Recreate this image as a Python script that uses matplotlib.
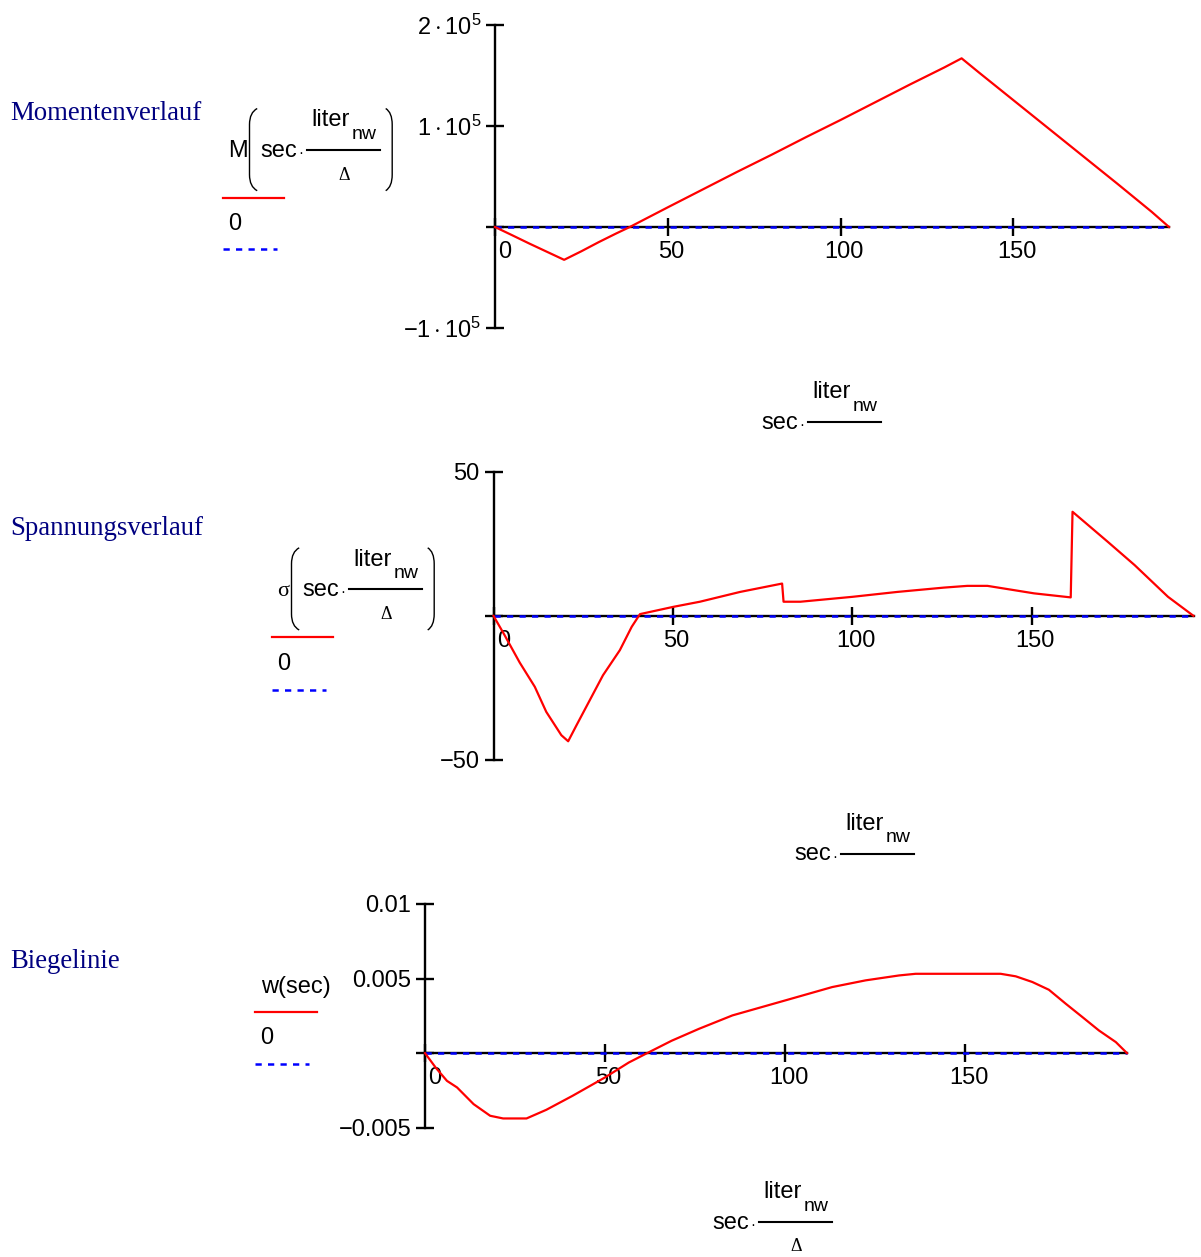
import matplotlib
matplotlib.use("Agg")
import matplotlib.pyplot as plt
from matplotlib.lines import Line2D
from matplotlib.path import Path
from matplotlib.patches import PathPatch
from matplotlib.transforms import Affine2D, ScaledTranslation

# --- data -----------------------------------------------------------------
x_ticks = [0, 50, 100, 150]
x_tick_labels = ["0", "50", "100", "150"]

# Momentenverlauf  M(sec*liter_nw/Delta)
m_x = [0, 5, 10, 15, 20, 25, 30, 35, 39, 50, 60, 70, 80, 90, 100, 110, 120,
       130, 135, 140, 150, 160, 170, 180, 190, 195]
m_y = [0, -8200, -16500, -24500, -32500, -24000, -15000, -6500, 0, 19500,
       37000, 54500, 71500, 89000, 106000, 123500, 141000, 158000, 167000,
       153000, 125500, 98000, 70500, 43000, 15000, 0]
m_yticks = [-1e5, 0, 1e5, 2e5]
m_ylabels = ["$-1\\cdot 10^{5}$", "", "$1\\cdot 10^{5}$", "$2\\cdot 10^{5}$"]

# Spannungsverlauf  sigma(sec*liter_nw/Delta)
s_x = [0, 3, 7.3, 11.5, 14.7, 18.9, 20.8, 23.1, 26.8, 30.5, 35.2, 38.5, 40.8,
       50, 57.5, 68.7, 80.4, 80.8, 85.5, 100, 112.5, 125.5, 132, 137.6, 150.6,
       160.8, 161.3, 164.6, 171.1, 178.6, 187.9, 195]
s_y = [0, -6.5, -16.2, -24.6, -33.3, -41.4, -43.5, -38, -29.3, -20.6, -11.9,
       -3.8, 0.6, 3.1, 4.9, 8.3, 11.2, 4.9, 4.9, 6.6, 8.3, 9.8, 10.4, 10.4,
       7.8, 6.4, 36.1, 32.6, 25.7, 17.6, 6.6, 0]
s_yticks = [-50, 0, 50]
s_ylabels = ["\u221250", "", "50"]

# Biegelinie  w(sec)
w_x = [0, 3, 6.1, 8.9, 13.5, 18.1, 21.7, 28.2, 33.7, 41, 50, 56.6, 61.7,
       68.5, 76.1, 85.4, 100, 113.1, 122.4, 131.7, 136.3, 159.9, 164.1,
       168.7, 173.3, 178, 182.6, 187.2, 191.9, 195]
w_y = [0, -0.00098, -0.00186, -0.0023, -0.00342, -0.0042, -0.00438,
       -0.00438, -0.0038, -0.00286, -0.00163, -0.00063, 0, 0.00083,
       0.00163, 0.00253, 0.00353, 0.00443, 0.00488, 0.00521, 0.00532,
       0.00532, 0.00515, 0.00477, 0.00425, 0.00331, 0.00242, 0.00152,
       0.00074, 0]
w_yticks = [-0.005, 0, 0.005, 0.01]
w_ylabels = ["\u22120.005", "", "0.005", "0.01"]

# --- figure ---------------------------------------------------------------
W, H = 1201, 1257
plt.rcParams["font.family"] = ["Liberation Sans", "DejaVu Sans"]
plt.rcParams["mathtext.fontset"] = "custom"
plt.rcParams["mathtext.rm"] = "Liberation Sans"
plt.rcParams["mathtext.it"] = "Liberation Sans:italic"

fig = plt.figure(figsize=(W / 100, H / 100), dpi=100)
# pixel coordinates measured from the top-left corner of the picture
T = Affine2D().scale(1 / W, -1 / H).translate(0, 1) + fig.transFigure

RED = "#ff0000"
BLUE = "#0000ff"
NAVY = "#000080"
DASH = (0, (2.5, 2.5))
AXW = 1.7


def rect(left, top, right, bottom):
    return [left / W, 1 - bottom / H, (right - left) / W, (bottom - top) / H]


def make_panel(box, xs, ys, ylim, yticks, ylabels):
    ax = fig.add_axes(rect(*box))
    ax.patch.set_visible(False)
    ax.plot([0, 195], [0, 0], color=BLUE, lw=1.8, ls=DASH, zorder=3,
            clip_on=False)
    ax.plot(xs, ys, color=RED, lw=1.6, zorder=4, clip_on=False)
    ax.set_xlim(0, 195)
    ax.set_ylim(*ylim)
    ax.spines["left"].set_position(("data", 0))
    ax.spines["bottom"].set_position(("data", 0))
    for s in ("top", "right"):
        ax.spines[s].set_visible(False)
    for s in ("left", "bottom"):
        ax.spines[s].set_linewidth(AXW)
    ax.set_xticks(x_ticks)
    ax.set_xticklabels(x_tick_labels)
    ax.set_yticks(yticks)
    ax.set_yticklabels(ylabels)
    ax.tick_params(direction="inout", length=13, width=AXW, labelsize=17,
                   pad=3.5)
    labels = ax.get_xticklabels()
    for lab in labels:
        lab.set_transform(lab.get_transform()
                          + ScaledTranslation(2.5 / 72, 0, fig.dpi_scale_trans))
    labels[0].set_ha("left")
    return ax


def paren(xv, xe, yt, yb):
    verts = [(xe, yt), (xv, yt + 4), (xv, yt + 16), (xv, yb - 16),
             (xv, yb - 4), (xe, yb)]
    codes = [Path.MOVETO, Path.CURVE3, Path.CURVE3, Path.LINETO,
             Path.CURVE3, Path.CURVE3]
    fig.add_artist(PathPatch(Path(verts, codes), transform=T, fill=False,
                             lw=1.0, edgecolor="black"))


def fraction(x0, ybar, denom):
    fig.text(x0, ybar + 7, "sec", transform=T, fontsize=17, va="baseline")
    fig.text(x0 + 38, ybar + 7, "\u00b7", transform=T, fontsize=11,
             va="baseline")
    fig.add_artist(Line2D([x0 + 46, x0 + 119], [ybar, ybar], transform=T,
                          color="black", lw=1.5))
    fig.text(x0 + 51, ybar - 23.5, "liter", transform=T, fontsize=17,
             va="baseline")
    fig.text(x0 + 91, ybar - 11, "nw", transform=T, fontsize=14,
             va="baseline")
    if denom:
        fig.text(x0 + 83.5, ybar + 25, "\u0394", transform=T, fontsize=13,
                 family="Liberation Serif", ha="center", va="center")


def arg_label(prefix, x0, ybar, serif=False):
    if serif:
        fig.text(x0 - 14, ybar + 7, prefix, transform=T, fontsize=16,
                 family="Liberation Serif", ha="right", va="baseline")
    else:
        fig.text(x0 - 13, ybar + 7, prefix, transform=T, fontsize=17,
                 ha="right", va="baseline")
    paren(x0 - 11.2, x0 - 3.5, ybar - 41.5, ybar + 40.7)
    fraction(x0, ybar, True)
    paren(x0 + 131.5, x0 + 125, ybar - 41.5, ybar + 40.7)


def trace_key(x0, y_red, y_zero, y_blue, red_len, blue_len):
    fig.add_artist(Line2D([x0, x0 + red_len], [y_red, y_red], transform=T,
                          color=RED, lw=1.6))
    fig.text(x0 + 5, y_zero, "0", transform=T, fontsize=17, va="center")
    fig.add_artist(Line2D([x0, x0 + blue_len], [y_blue, y_blue], transform=T,
                          color=BLUE, lw=1.8, ls=DASH))


def title(text, y):
    fig.text(10, y, text, transform=T, fontsize=19.3, color=NAVY,
             family="Liberation Serif", va="baseline")


# Momentenverlauf
make_panel((495, 25, 1169, 328), m_x, m_y, (-1e5, 2e5), m_yticks, m_ylabels)
title("Momentenverlauf", 119.5)
arg_label("M", 260.7, 150)
trace_key(222.7, 197.7, 224, 249.3, 61.6, 54)
fraction(761.7, 421.7, False)

# Spannungsverlauf
make_panel((493.5, 471.7, 1193.5, 760), s_x, s_y, (-50, 50), s_yticks,
           s_ylabels)
title("Spannungsverlauf", 535)
arg_label("\u03c3", 302.7, 589.3, serif=True)
trace_key(271.7, 637.3, 664.3, 690, 61, 54)
fraction(794.5, 853.5, False)

# Biegelinie
make_panel((425, 904, 1127, 1127.7), w_x, w_y, (-0.005, 0.01), w_yticks,
           w_ylabels)
title("Biegelinie", 968)
fig.text(260.7, 986.7, "w(sec)", transform=T, fontsize=17, va="center")
trace_key(255, 1011.7, 1038.3, 1064, 61.7, 54)
fraction(712.7, 1221.7, True)

fig.savefig("out.png", dpi=100)
